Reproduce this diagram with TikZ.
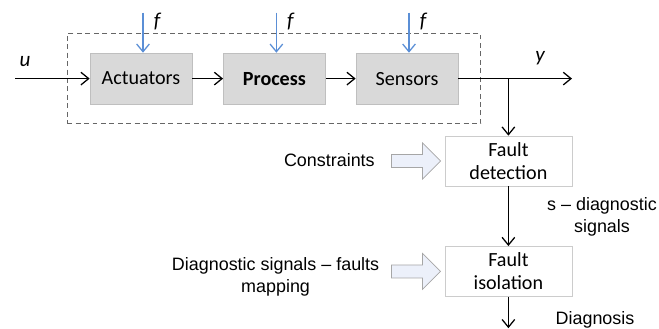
\documentclass[tikz,border=0pt]{standalone}
\usepackage{fontspec}
\setmainfont{Carlito}
\newfontfamily\arialfont{Liberation Sans}
\usepackage{xcolor}
\usetikzlibrary{positioning,fit,arrows.meta}
\definecolor{fblue}{RGB}{91,143,214}
\definecolor{arrfill}{RGB}{236,240,250}
\newcommand{\hollowarrow}[1]{%
  \draw[bigarr] ([xshift=-0.1cm]#1.west) -- ++(-0.45,0.45) -- ++(0,-0.2875)
    -- ++(-0.775,0) -- ++(0,-0.325) -- ++(0.775,0) -- ++(0,-0.2875) -- cycle;}

\begin{document}
\begin{tikzpicture}[>={Straight Barb[length=5.5pt,width=9pt]}, line width=0.9pt,
  block/.style={draw=gray!50, line width=0.5pt, fill=gray!30, minimum width=2.55cm,
    minimum height=1.275cm, font=\fontsize{14.3}{16.3}\selectfont},
  stage/.style={draw=gray!40, line width=0.5pt, fill=white, minimum width=3.175cm,
    minimum height=1.25cm, align=center, font=\fontsize{14.3}{16.3}\selectfont},
  note/.style={align=center, font=\arialfont\fontsize{12.75}{15.6}\selectfont},
  sym/.style={font=\fontsize{15}{15}\selectfont\itshape},
  fault/.style={->, draw=fblue},
  bigarr/.style={draw=gray!70, fill=arrfill, line width=0.5pt}]
  \useasboundingbox (0,0) rectangle (16.475,8.225);

  % plant blocks
  \node[block] (act) at (3.525,6.26) {Actuators};
  \node[block] (proc) at (6.86,6.26) {\textbf{Process}};
  \node[block] (sens) at (10.175,6.26) {Sensors};
  \node[draw=gray!80!black, line width=0.7pt, dash pattern=on 3.5pt off 2.5pt,
    fit=(act) (sens), inner xsep=0.56cm, inner ysep=0.48cm] (plant) {};

  % diagnosis stages
  \node[stage] (det) at (12.71,4.2) {Fault\\detection};
  \node[stage] (iso) at (12.71,1.44) {Fault\\isolation};

  \coordinate (u) at (0.375,6.26);
  \coordinate (y) at (14.3,6.26);
  \coordinate (tap) at (det.north |- sens.east);
  \coordinate (diag) at (12.71,0.02);

  \node[sym] (ulab) at (0.625,6.675) {u};
  \node[sym] (ylab) at (13.5,6.775) {y};

  \foreach \b in {act,proc,sens} {
    \draw[fault] ([xshift=0.05cm,yshift=1cm]\b.north) -- ([xshift=0.05cm]\b.north);
    \node[sym] (f\b) at ([xshift=0.4cm,yshift=0.78cm]\b.north) {f};
  }

  \draw[->] (u) -- (act);
  \draw[->] (act) -- (proc);
  \draw[->] (proc) -- (sens);
  \draw[->] (sens) -- (y);
  \draw[->] (tap) -- (det);
  \draw[->] (det) -- (iso);
  \draw[->] (iso) -- (diag);

  % side inputs and labels
  \node[note, anchor=east] (cons) at (9.5,4.225) {Constraints};
  \node[note] (map) at (6.89,1.3) {Diagnostic signals – faults\\mapping};
  \node[note] (sig) at (15.05,2.8) {s – diagnostic\\signals};
  \node[note] (dlab) at (14.875,0.225) {Diagnosis};
  \hollowarrow{det}
  \hollowarrow{iso}
\end{tikzpicture}
\end{document}
